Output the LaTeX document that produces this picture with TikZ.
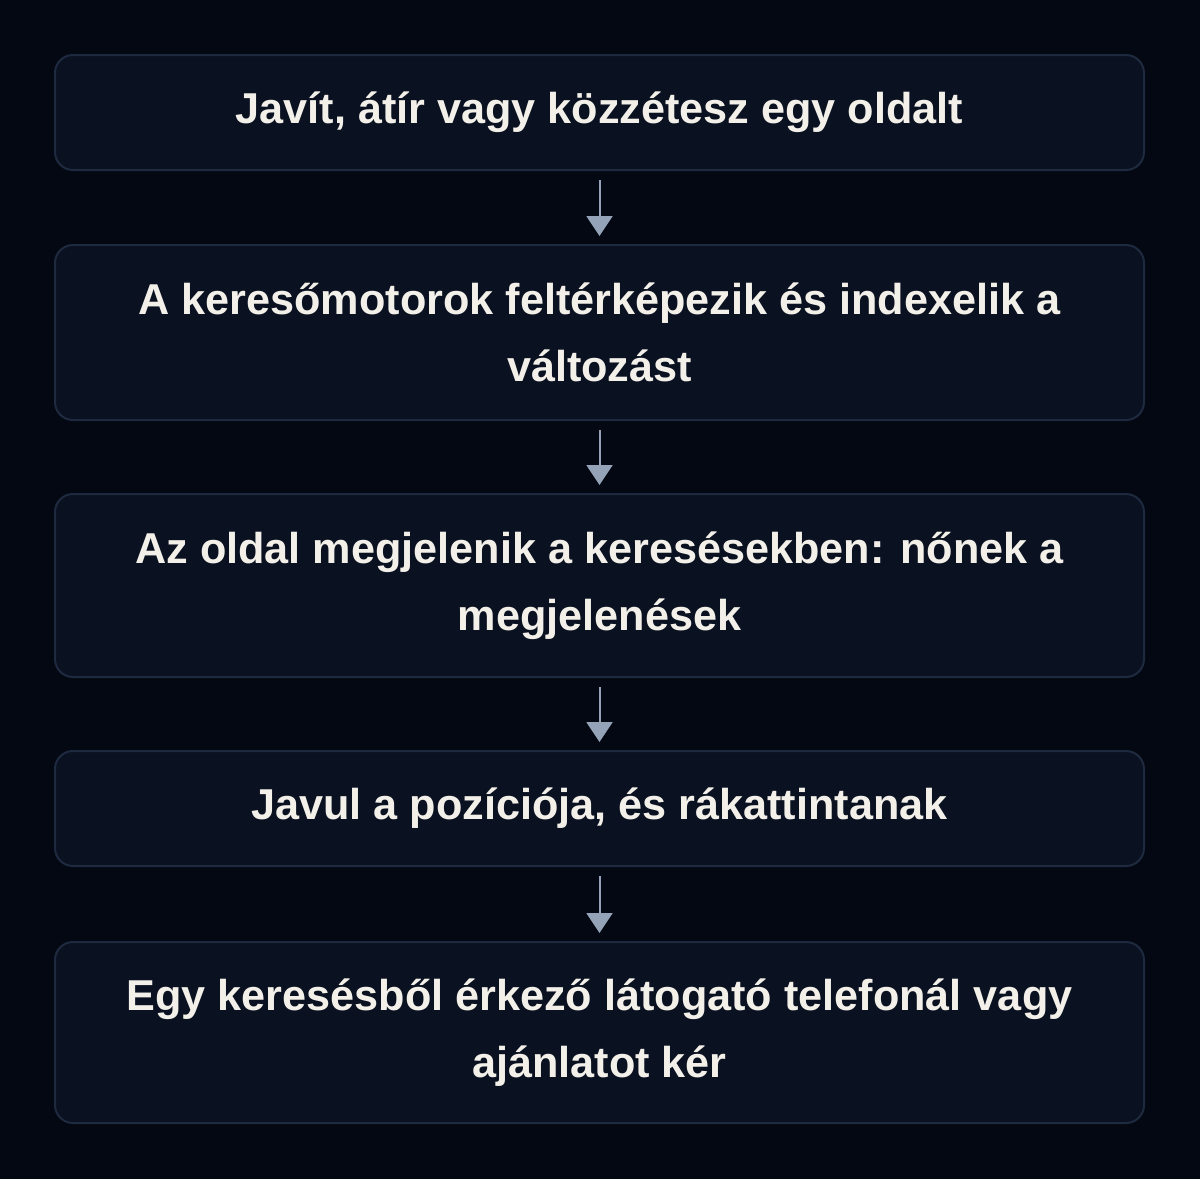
\documentclass[tikz,border=0pt]{standalone}
\usepackage{fontspec}
\setmainfont{Liberation Sans}
\usetikzlibrary{arrows.meta}
\definecolor{fondo}{HTML}{040812}
\definecolor{relleno}{HTML}{0A1120}
\definecolor{borde}{HTML}{1E2A40}
\definecolor{flechagris}{HTML}{94A3B8}
\definecolor{texto}{HTML}{F3F0EA}
\tikzset{
  paso/.style={draw=borde, line width=1pt, fill=relleno, rounded corners=9pt,
    minimum width=544.5pt, inner sep=0pt, align=center, text=texto,
    font=\fontsize{21.6pt}{33.5pt}\selectfont\bfseries},
  flecha/.style={draw=flechagris, line width=1pt, -{Triangle[width=13pt,length=10pt]},
    shorten <=4.5pt, shorten >=4pt}
}
\begin{document}
\begin{tikzpicture}
% Fondo y marco
\fill[fondo] (0,0) rectangle (600pt,-589.5pt);
\useasboundingbox (0,0) rectangle (600pt,-589.5pt);
% Pasos
\node[paso, minimum height=57.5pt] (publica) at (299.75pt,-56.25pt) {Javít, átír vagy közzétesz egy oldalt};
\node[paso, minimum height=87.5pt] (indexa) at (299.75pt,-166.25pt) {A keresőmotorok feltérképezik és indexelik a\\változást};
\node[paso, minimum height=91.5pt] (aparece) at (299.75pt,-292.75pt) {Az oldal megjelenik a keresésekben: nőnek a\\megjelenések};
\node[paso, minimum height=57.5pt] (clics) at (299.75pt,-404.25pt) {Javul a pozíciója, és rákattintanak};
\node[paso, minimum height=90.5pt] (contacto) at (299.75pt,-516.25pt) {Egy keresésből érkező látogató telefonál vagy\\ajánlatot kér};
% Flechas entre pasos
\draw[flecha] (publica.south) -- (indexa.north);
\draw[flecha] (indexa.south) -- (aparece.north);
\draw[flecha] (aparece.south) -- (clics.north);
\draw[flecha] (clics.south) -- (contacto.north);
\end{tikzpicture}
\end{document}
